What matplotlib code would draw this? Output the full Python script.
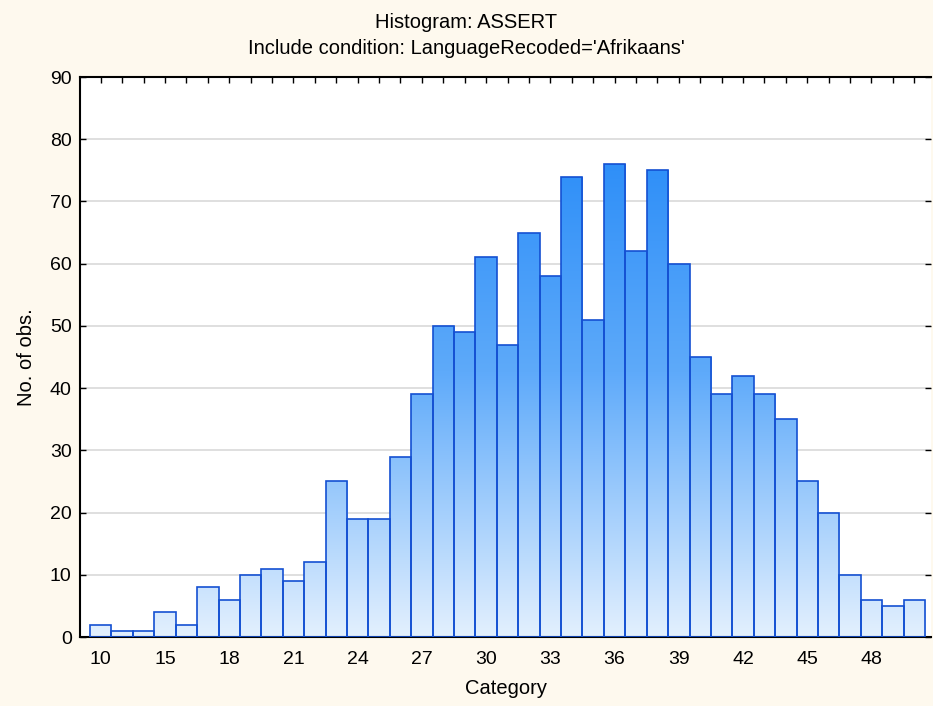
import matplotlib
matplotlib.use("Agg")
import matplotlib.pyplot as plt
import numpy as np
from matplotlib.colors import LinearSegmentedColormap
from matplotlib.patches import Rectangle

plt.rcParams['font.family'] = ['Liberation Sans', 'DejaVu Sans']

categories = list(range(12, 51))
counts = [2, 1, 1, 4, 2, 8, 6, 10, 11, 9, 12, 25, 19, 19, 29, 39, 50, 49, 61, 47,
          65, 58, 74, 51, 76, 62, 75, 60, 45, 39, 42, 39, 35, 25, 20, 10, 6, 5, 6]
tick_positions = categories[::3]
tick_labels = ["10", "15", "18", "21", "24", "27", "30", "33", "36", "39", "42", "45", "48"]

title1 = "Histogram: ASSERT"
title2 = "Include condition: LanguageRecoded='Afrikaans'"

fig = plt.figure(figsize=(9.33, 7.06), dpi=100, facecolor="#fef9ee")
ax = fig.add_axes([80/933, 69/706, 851/933, 560/706])
ax.set_facecolor("white")

x0 = categories[0] - 0.97
x1 = categories[-1] + 0.78

cmap = LinearSegmentedColormap.from_list("g", ["#e3f0fe", "#5eaafa", "#2288f8"])
grad = np.linspace(0, 1, 256).reshape(-1, 1)

for c, v in zip(categories, counts):
    rect = Rectangle((c - 0.5, 0), 1, v, facecolor="none", edgecolor="#1450d2",
                     linewidth=1.2, zorder=3)
    ax.add_patch(rect)
    im = ax.imshow(grad, extent=[c - 0.5, c + 0.5, 0, 85], origin="lower",
                   cmap=cmap, aspect="auto", zorder=2, interpolation="bilinear")
    im.set_clip_path(rect)

ax.set_xlim(x0, x1)
ax.set_ylim(0, 90)

ax.set_yticks(range(0, 91, 10))
ax.yaxis.grid(True, color="#d9d9d9", linewidth=1.2, zorder=0)
ax.set_axisbelow(True)

ax.set_xticks(categories, minor=True)
ax.set_xticks(tick_positions)
ax.set_xticklabels(tick_labels)
ax.tick_params(axis="x", which="both", direction="in", length=4, width=1,
               top=True, bottom=True, labelsize=14, pad=10, color="black")
ax.tick_params(axis="y", direction="in", length=4, width=1, left=True, right=True,
               labelsize=14, pad=6)

for s in ["left", "bottom", "top"]:
    ax.spines[s].set_linewidth(1.5)
    ax.spines[s].set_color("black")
ax.spines["right"].set_visible(False)

ax.set_xlabel("Category", fontsize=14.5, labelpad=8)
ax.set_ylabel("No. of obs.", fontsize=14.5, labelpad=10)

fig.text(0.5, 1 - 22/706, title1, ha="center", va="center", fontsize=14.5)
fig.text(0.5, 1 - 48/706, title2, ha="center", va="center", fontsize=14.5)

fig.savefig("out.png", dpi=100, facecolor=fig.get_facecolor())
